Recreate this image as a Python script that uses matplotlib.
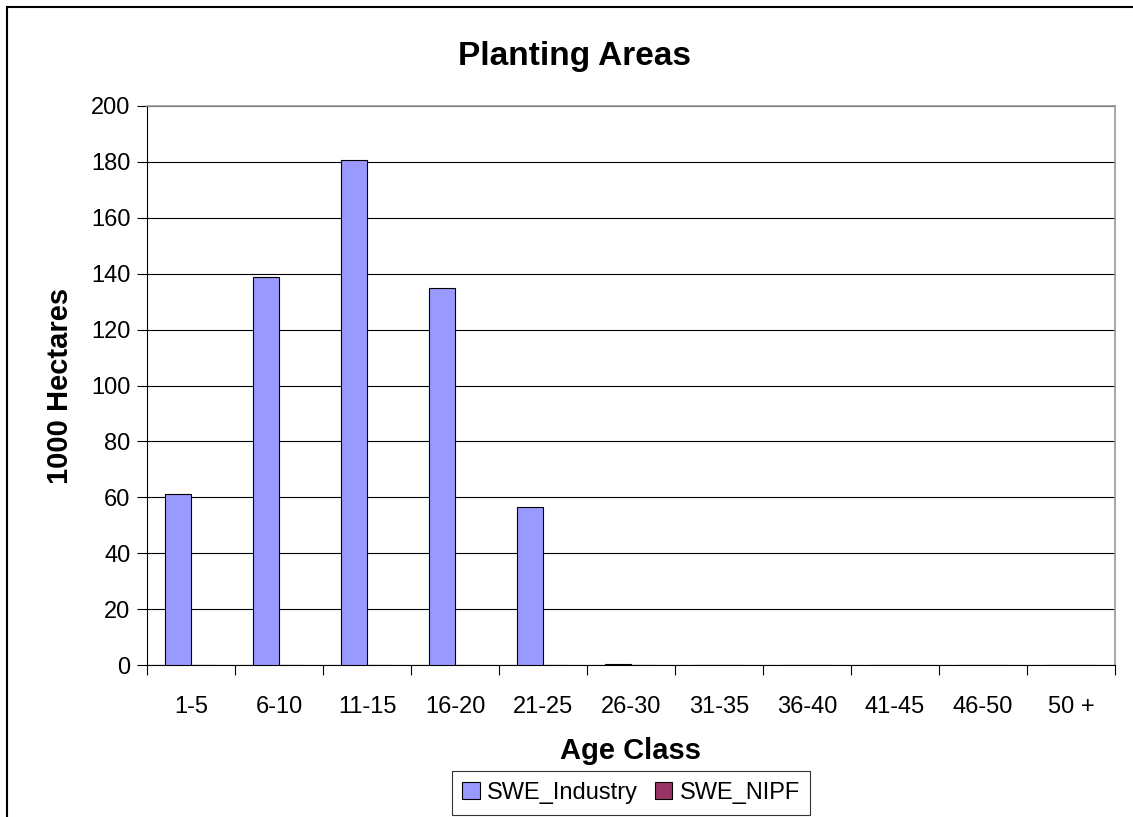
import numpy as np
import matplotlib.pyplot as plt
from matplotlib.patches import Rectangle

plt.rcParams['font.family'] = ['Liberation Sans', 'DejaVu Sans']

# data
age_classes = ['1-5', '6-10', '11-15', '16-20', '21-25', '26-30',
               '31-35', '36-40', '41-45', '46-50', '50 +']
swe_industry = [61.2, 138.8, 180.6, 134.9, 56.6, 0.4, 0, 0, 0, 0, 0]
swe_nipf = [0, 0, 0, 0, 0, 0, 0, 0, 0, 0, 0]

fig = plt.figure(figsize=(11.33, 8.17), dpi=100)
ax = fig.add_axes([147/1133, 1 - 665/817, (1115-147)/1133, (665-106)/817])

x = np.arange(len(age_classes))
w = 26/88
ax.bar(x - w/2, swe_industry, w, color='#9999ff', edgecolor='black', linewidth=0.8,
       label='SWE_Industry', zorder=3)
ax.bar(x + w/2, swe_nipf, w, color='#993366', edgecolor='black', linewidth=0.8,
       label='SWE_NIPF', zorder=3)

ax.set_xlim(-0.5, len(age_classes) - 0.5)
ax.set_ylim(0, 200)
ax.set_yticks(np.arange(0, 201, 20))
ax.yaxis.grid(True, color='black', linewidth=0.8)
ax.set_axisbelow(True)

ax.set_xticks(x)
ax.set_xticklabels(age_classes)
ax.set_xticks(np.arange(-0.5, len(age_classes)), minor=True)
ax.tick_params(axis='x', which='major', length=0, pad=22, labelsize=17)
ax.tick_params(axis='x', which='minor', length=7, width=0.8, direction='out')
ax.tick_params(axis='y', length=7, width=0.8, direction='out', labelsize=17, pad=5)

for s in ['top', 'right']:
    ax.spines[s].set_color('#999999')
    ax.spines[s].set_linewidth(1.2)
for s in ['left', 'bottom']:
    ax.spines[s].set_color('black')
    ax.spines[s].set_linewidth(0.8)

ax.set_xlabel('Age Class', fontsize=21, fontweight='bold', labelpad=14)
ax.set_ylabel('1000 Hectares', fontsize=21, fontweight='bold', labelpad=12)
fig.text(574/1133, 1 - 57/817, 'Planting Areas', fontsize=24, fontweight='bold',
         ha='center', va='center')

leg = ax.legend(loc='center', bbox_to_anchor=(631/1133, 1 - 793/817),
                bbox_transform=fig.transFigure, ncol=2, fontsize=17,
                frameon=True, fancybox=False, edgecolor='black',
                handlelength=0.75, handleheight=0.75, handletextpad=0.3,
                columnspacing=0.7, borderpad=0.45)
leg.get_frame().set_linewidth(0.8)

# outer chart border
fig.patches.append(Rectangle((7/1133, -0.1), 1.2, 1 - 7/817 + 0.1,
                             transform=fig.transFigure, fill=False,
                             edgecolor='black', linewidth=1.5))

plt.savefig('out.png', dpi=100)
